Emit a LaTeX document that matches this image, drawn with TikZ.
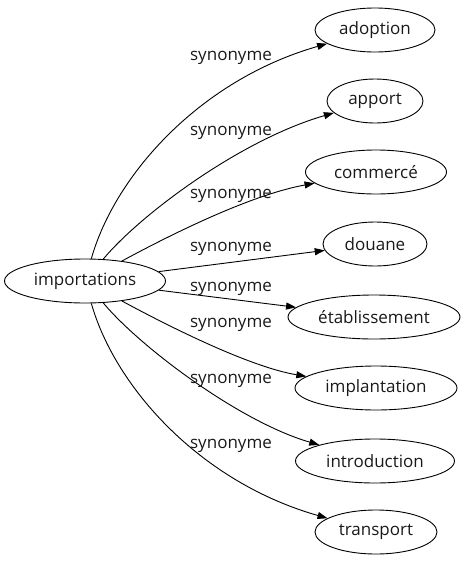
\documentclass[tikz,border=0pt]{standalone}
\usepackage{fontspec}
\setmainfont{Open Sans}
\usetikzlibrary{arrows.meta,shapes.geometric}

\begin{document}
\begin{tikzpicture}[x=1pt, y=-1pt, line join=round,
  word/.style={draw, ellipse, line width=0.9pt, minimum height=44pt, inner sep=0pt,
    font=\fontsize{17}{20}\selectfont, text=black!90},
  rel/.style={line width=0.9pt, -{Triangle[length=10pt,width=7pt]}},
  lbl/.style={font=\fontsize{17}{20}\selectfont, text=black!90}]
\useasboundingbox (0,0) rectangle (466,563);
% the headword and its synonyms
\node[word, minimum width=161pt] (imp) at (85,281) {importations};
\node[word, minimum width=120pt] (adoption) at (375,30) {adoption};
\node[word, minimum width=96pt] (apport) at (375,101) {apport};
\node[word, minimum width=141pt] (commerce) at (376,172) {commercé};
\node[word, minimum width=104pt] (douane) at (375,244) {douane};
\node[word, minimum width=172pt] (etab) at (374,317) {établissement};
\node[word, minimum width=162pt] (implant) at (376,388) {implantation};
\node[word, minimum width=159pt] (intro) at (375,461) {introduction};
\node[word, minimum width=122pt] (transport) at (376,532) {transport};
% links
\draw[rel] (imp) .. controls (115,175) and (200,80) .. (adoption);
\draw[rel] (imp) .. controls (140,215) and (240,140) .. (apport);
\draw[rel] (imp) .. controls (170,235) and (250,195) .. (commerce);
\draw[rel] (imp) -- (douane);
\draw[rel] (imp) -- (etab);
\draw[rel] (imp) .. controls (170,327) and (250,367) .. (implant);
\draw[rel] (imp) .. controls (140,347) and (240,422) .. (intro);
\draw[rel] (imp) .. controls (115,387) and (200,482) .. (transport);
% labels
\node[lbl] (s1) at (231,58) {synonyme};
\node[lbl] (s2) at (231,133) {synonyme};
\node[lbl] (s3) at (231,196) {synonyme};
\node[lbl] (s4) at (231,249) {synonyme};
\node[lbl] (s5) at (231,289) {synonyme};
\node[lbl] (s6) at (231,325) {synonyme};
\node[lbl] (s7) at (231,381) {synonyme};
\node[lbl] (s8) at (231,446) {synonyme};
\end{tikzpicture}
\end{document}
